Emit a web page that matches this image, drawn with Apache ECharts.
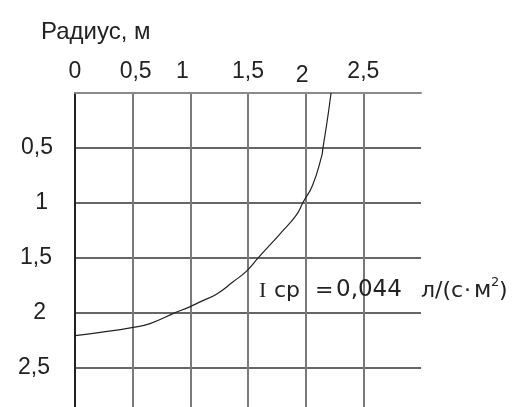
<!DOCTYPE html>
<html>
<head>
<meta charset="utf-8">
<script src="https://cdn.jsdelivr.net/npm/echarts@6/dist/echarts.min.js"></script>
<style>
  html, body { margin: 0; padding: 0; background: #fff; }
  #chart { width: 521px; height: 407px; }
</style>
</head>
<body>
<div id="chart"></div>
<script>
// Radius along the top axis, depth down the side axis
const radius = [0, 0.22, 0.48, 0.65, 0.87, 0.99, 1.09, 1.23, 1.37, 1.49, 1.59, 1.78, 1.92, 1.98, 2.06, 2.14, 2.15, 2.19, 2.22];
const depth  = [2.21, 2.18, 2.14, 2.10, 2.00, 1.95, 1.90, 1.83, 1.72, 1.62, 1.50, 1.28, 1.11, 0.99, 0.84, 0.57, 0.50, 0.23, 0];

const xTicks = ['0', '0,5', '1', '1,5', '2', '2,5'];
const yTicks = ['0,5', '1', '1,5', '2', '2,5'];

const axisTitle = 'Радиус, м';
const intensityName = 'I';
const intensitySub = 'ср';
const intensityEq = '=';
const intensityValue = '0,044';
const unitHead = 'л/(с';
const unitDot = '·';
const unitM = 'м';
const unitPow = '2';
const unitTail = ')';

const chart = echarts.init(document.getElementById('chart'), null, { renderer: 'canvas' });

const labelFont = 'Liberation Sans, Arial, sans-serif';
const textColor = '#222';

// small per-label nudges for the top scale
const xBase = { fontSize: 23, fontFamily: labelFont, color: textColor };
const xRich = {
  n0:  Object.assign({}, xBase),
  n05: Object.assign({}, xBase, { padding: [0, 0, 0, 6] }),
  n1:  Object.assign({}, xBase, { padding: [0, 16, 0, 0] }),
  n15: Object.assign({}, xBase),
  n2:  Object.assign({}, xBase, { padding: [0, 7, -4, 0] }),
  n25: Object.assign({}, xBase)
};
const xKeys = ['n0', 'n05', 'n1', 'n15', 'n2', 'n25'];

// and for the side scale
const yBase = { fontSize: 23, fontFamily: labelFont, color: textColor };
const yRich = {
  m05: Object.assign({}, yBase),
  m1:  Object.assign({}, yBase, { padding: [0, 5, 0, 0] }),
  m15: Object.assign({}, yBase, { padding: [0, 1, 0, 0] }),
  m2:  Object.assign({}, yBase, { padding: [0, 7, 0, 0] }),
  m25: Object.assign({}, yBase, { padding: [0, 3, 0, 0] })
};
const yKeys = ['m05', 'm1', 'm15', 'm2', 'm25'];

const sans = '"DejaVu Sans", sans-serif';
const txt = (left, top, text, font) => ({
  type: 'text', left, top, z: 10,
  style: { text, font, fill: textColor }
});

chart.setOption({
  animation: false,
  backgroundColor: '#fff',
  title: {
    text: axisTitle,
    left: 36,
    top: 15,
    textStyle: { fontSize: 24, fontWeight: 'normal', fontFamily: labelFont, color: textColor }
  },
  grid: { left: 75, top: 93, width: 346, bottom: 0, containLabel: false },
  xAxis: {
    type: 'value',
    position: 'top',
    min: 0, max: 3, interval: 0.5,
    axisLine: { show: true, onZero: false, lineStyle: { color: '#8a8a8a', width: 2 } },
    axisTick: { show: false },
    axisLabel: {
      margin: 10,
      formatter: v => {
        const i = Math.round(v / 0.5);
        if (i >= xTicks.length) return '';
        return '{' + xKeys[i] + '|' + xTicks[i] + '}';
      },
      rich: xRich
    },
    splitLine: { show: true, showMinLine: false, showMaxLine: false, lineStyle: { color: '#7a7a7a', width: 2 } }
  },
  yAxis: {
    type: 'value',
    inverse: true,
    min: 0, max: 2.86, interval: 0.5,
    axisLine: { show: true, onZero: false, lineStyle: { color: '#222', width: 2 } },
    axisTick: { show: false },
    axisLabel: {
      margin: 22,
      showMaxLabel: false,
      formatter: v => {
        const i = Math.round(v / 0.5) - 1;
        return (i >= 0 && i < yTicks.length) ? '{' + yKeys[i] + '|' + yTicks[i] + '}' : '';
      },
      rich: yRich
    },
    splitLine: { show: true, showMinLine: false, showMaxLine: false, lineStyle: { color: '#333', width: 1.5 } }
  },
  series: [{
    type: 'line',
    data: radius.map((r, i) => [r, depth[i]]),
    smooth: 0.5,
    showSymbol: false,
    lineStyle: { color: '#222', width: 1.2 },
    z: 3
  }],
  graphic: [
    txt(259, 280, intensityName, '22px "Liberation Serif", serif'),
    txt(274, 280, intensitySub, '22px ' + sans),
    txt(315, 280, intensityEq, '22px ' + sans),
    txt(336, 279, intensityValue, '23px ' + sans),
    txt(421, 280, unitHead, '22px ' + sans),
    txt(464, 280, unitDot, '22px ' + sans),
    txt(474, 280, unitM, '23px ' + sans),
    txt(491, 276, unitPow, '13px ' + sans),
    txt(499, 280, unitTail, '22px ' + sans)
  ]
});
</script>
</body>
</html>
